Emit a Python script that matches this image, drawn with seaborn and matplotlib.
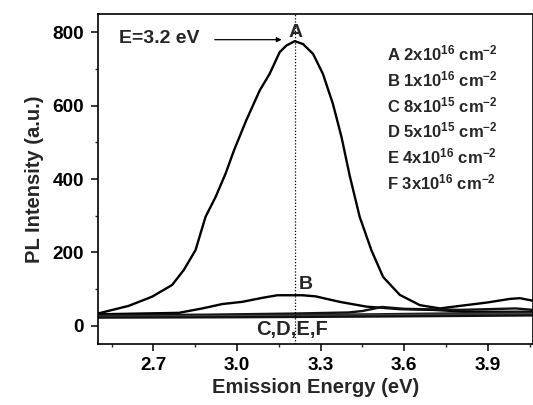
import numpy as np
import pandas as pd
import matplotlib
matplotlib.use("Agg")
import matplotlib.pyplot as plt
import seaborn as sns

# ---- data ----
energy_A = [2.50, 2.611, 2.695, 2.767, 2.809, 2.851, 2.887, 2.923, 2.959, 2.989, 3.033, 3.081, 3.117,
            3.153, 3.177, 3.207, 3.237, 3.273, 3.308, 3.344, 3.375, 3.404, 3.440, 3.482, 3.524, 3.584,
            3.656, 3.728, 3.800, 3.896, 3.979, 4.015, 4.062]
intens_A = [33, 54, 79, 111, 152, 206, 297, 351, 415, 478, 560, 641, 687,
            746, 764, 776, 768, 741, 687, 605, 514, 410, 297, 206, 133, 84,
            56, 47, 54, 63, 73, 75, 68]

energy_B = [2.50, 2.791, 2.875, 2.947, 3.019, 3.091, 3.145, 3.234, 3.282, 3.368, 3.464, 3.584, 3.703, 3.824, 4.062]
intens_B = [31, 35, 47, 59, 65, 76, 83, 83, 80, 65, 52, 45, 43, 38, 38]

energy_C = [2.50, 2.90, 3.20, 3.40, 3.45, 3.52, 3.60, 3.80, 3.95, 4.00, 4.062]
intens_C = [28, 30, 33, 36, 40, 51, 46, 43, 46, 47, 43]

energy_D = [2.50, 3.00, 3.50, 4.062]
intens_D = [26, 28, 31, 36]

energy_E = [2.50, 3.00, 3.50, 4.062]
intens_E = [24, 26, 28, 32]

energy_F = [2.50, 3.00, 3.50, 4.062]
intens_F = [22, 23, 25, 28]

samples = ["A", "B", "C", "D", "E", "F"]
legend_lines = [r"A 2x10$^{16}$ cm$^{-2}$", r"B 1x10$^{16}$ cm$^{-2}$", r"C 8x10$^{15}$ cm$^{-2}$",
                r"D 5x10$^{15}$ cm$^{-2}$", r"E 4x10$^{16}$ cm$^{-2}$", r"F 3x10$^{16}$ cm$^{-2}$"]
x_ticks = [2.7, 3.0, 3.3, 3.6, 3.9]
y_ticks = [0, 200, 400, 600, 800]

frames = []
for s, e, i in zip(samples,
                   [energy_A, energy_B, energy_C, energy_D, energy_E, energy_F],
                   [intens_A, intens_B, intens_C, intens_D, intens_E, intens_F]):
    frames.append(pd.DataFrame({"Energy": e, "Intensity": i, "Sample": s}))
df = pd.concat(frames, ignore_index=True)

sns.set_style("ticks")
plt.rcParams["font.family"] = ["Liberation Sans", "DejaVu Sans"]
plt.rcParams["font.weight"] = "bold"
plt.rcParams["mathtext.fontset"] = "custom"
plt.rcParams["mathtext.rm"] = "Liberation Sans:bold"
plt.rcParams["mathtext.it"] = "Liberation Sans:bold"
plt.rcParams["mathtext.bf"] = "Liberation Sans:bold"

fig = plt.figure(figsize=(5.33, 4.05), dpi=100)
ax = fig.add_axes([0.1833, 0.1506, 0.8167, 0.8148])

palette = {"A": "black", "B": "black", "C": "#111111", "D": "#1a1a1a", "E": "#444444", "F": "#111111"}
sns.lineplot(data=df, x="Energy", y="Intensity", hue="Sample", palette=palette,
             legend=False, ax=ax, linewidth=1.7, sort=False, estimator=None)

ax.set_xlim(2.5, 4.062)
ax.set_ylim(-50, 850)
ax.set_xticks(x_ticks)
ax.set_xticklabels([f"{v:.1f}" for v in x_ticks])
ax.set_yticks(y_ticks)
ax.set_xticks(np.arange(2.55, 4.1, 0.3), minor=True)
ax.set_yticks(np.arange(100, 850, 200), minor=True)
ax.tick_params(axis="both", which="major", direction="out", length=5, width=1.1,
               labelsize=13.7, colors="black")
ax.tick_params(axis="x", which="major", pad=4)
ax.tick_params(axis="y", which="major", pad=5)
ax.tick_params(axis="both", which="minor", direction="out", length=2.4, width=1.0)
for lab in ax.get_xticklabels() + ax.get_yticklabels():
    lab.set_fontweight("bold")
for sp in ax.spines.values():
    sp.set_visible(True)
    sp.set_linewidth(1.2)
    sp.set_color("black")

ax.set_xlabel("Emission Energy (eV)", fontsize=14.5, fontweight="bold", labelpad=3)
ax.set_ylabel("PL Intensity (a.u.)", fontsize=14.5, fontweight="bold", labelpad=6)

# dotted vertical at peak
ax.axvline(3.209, color="black", linestyle=(0, (1.0, 1.5)), linewidth=0.9)

ax.annotate("", xy=(3.17, 780), xytext=(2.91, 780),
            arrowprops=dict(arrowstyle="-|>", color="black", lw=0.9, mutation_scale=7))
ax.text(2.578, 782, "E=3.2 eV", fontsize=14, fontweight="bold", va="center", ha="left")
ax.text(3.209, 800, "A", fontsize=14, fontweight="bold", ha="center", va="center")
ax.text(3.246, 111, "B", fontsize=14, fontweight="bold", ha="center", va="center")
ax.text(3.196, -10, "C,D,E,F", fontsize=14.5, fontweight="bold", ha="center", va="center")

for k, t in enumerate(legend_lines):
    ax.text(0.664, 0.879 - k * 0.0776, t, transform=ax.transAxes, fontsize=12,
            fontweight="bold", ha="left", va="center")

fig.savefig("out.png", dpi=100)
